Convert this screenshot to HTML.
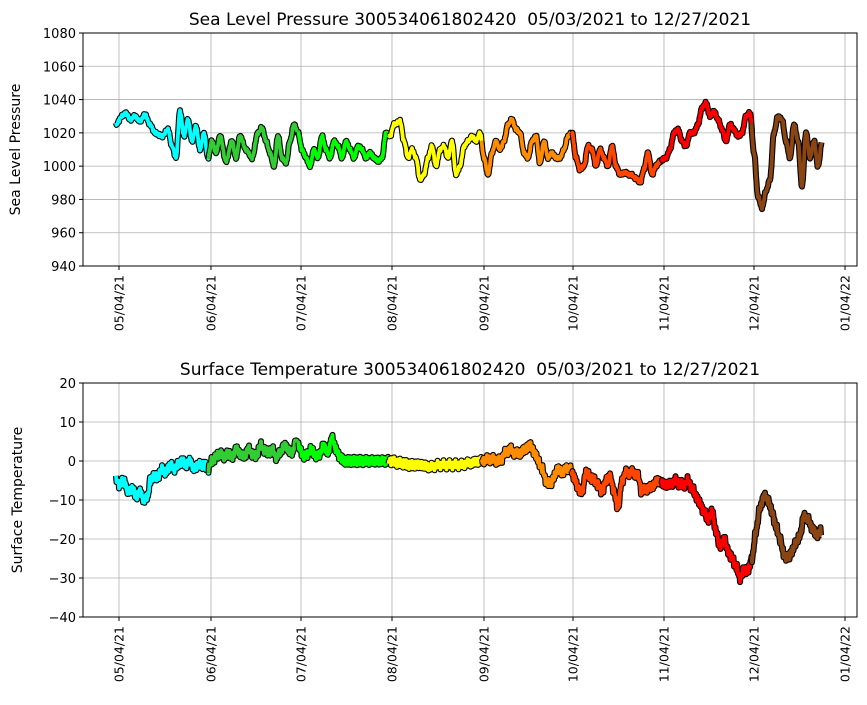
<!DOCTYPE html>
<html><head><meta charset="utf-8"><style>
body{margin:0;background:#fff;}
svg{font-family:"DejaVu Sans","Liberation Sans",sans-serif;}
</style></head><body>
<svg id="s" width="867" height="700" xmlns="http://www.w3.org/2000/svg"></svg>
<script>
const S=document.getElementById('s');
let h='';
const X0=83,X1=857;
const xt=[119,211,301,392,484,573,664,754,845];
const xl=['05/04/21','06/04/21','07/04/21','08/04/21','09/04/21','10/04/21','11/04/21','12/04/21','01/04/22'];
const cols=['#00ffff','#32cd32','#00ff00','#ffff00','#ff8c00','#ff4500','#ff0000','#8b4513'];
const bnd=[0,209,299,389,482,572,662,752,2000];
function axes(top,bot,vmax,vmin,step,title,ylab){
  const sc=(bot-top)/(vmax-vmin);
  for(let v=vmin;v<=vmax;v+=step){const y=top+(vmax-v)*sc;
    h+=`<line x1="${X0}" x2="${X1}" y1="${y}" y2="${y}" stroke="#b0b0b0" stroke-width="0.8"/>`;
    h+=`<line x1="${X0-4}" x2="${X0}" y1="${y}" y2="${y}" stroke="#000"/>`;
    h+=`<text x="${X0-7}" y="${y+5}" font-size="13" text-anchor="end">${v<0?'\u2212'+(-v):v}</text>`;}
  xt.forEach((x,i)=>{h+=`<line x1="${x}" x2="${x}" y1="${top}" y2="${bot}" stroke="#b0b0b0" stroke-width="0.8"/>`;
    h+=`<line x1="${x}" x2="${x}" y1="${bot}" y2="${bot+4}" stroke="#000"/>`;
    h+=`<text transform="translate(${x+4.5},${bot+9}) rotate(-90)" font-size="12.5" text-anchor="end">${xl[i]}</text>`;});
  h+=`<text x="470" y="${top-8}" font-size="17" text-anchor="middle" xml:space="preserve">${title}</text>`;
  h+=`<text transform="translate(${ylab},${(top+bot)/2}) rotate(-90)" font-size="14" text-anchor="middle">${ylab==20?'Sea Level Pressure':'Surface Temperature'}</text>`;
  return v=>top+(vmax-v)*sc;
}
function series(pts,f,amp){
  let P=[];
  for(let i=0;i<pts.length-2;i+=2){const x0=pts[i],v0=pts[i+1],x1=pts[i+2],v1=pts[i+3];
    for(let x=x0;x<x1;x+=0.5){const t=(x-x0)/(x1-x0);const s=(1-Math.cos(t*Math.PI))/2;
      P.push([x,f(v0+(v1-v0)*s+amp*Math.sin(x*7.3)*Math.sin(x*2.1))]);}}
  for(let m=0;m<8;m++){const seg=P.filter(p=>p[0]>=bnd[m]-0.5&&p[0]<=bnd[m+1]);if(!seg.length)continue;
    const d='M'+seg.map(p=>p[0].toFixed(1)+','+p[1].toFixed(1)).join('L');
    h+=`<path d="${d}" fill="none" stroke="#000" stroke-width="6" stroke-linejoin="round"/>`;
    h+=`<path d="${d}" fill="none" stroke="${cols[m]}" stroke-width="3.8" stroke-linejoin="round"/>`;}
}
const f1=axes(33,266,1080,940,20,'Sea Level Pressure 300534061802420  05/03/2021 to 12/27/2021',20);
series([116,1025,122,1030,126,1032,130,1028,135,1030,140,1027,145,1031,150,1025,155,1020,162,1018,168,1022,172,1012,176,1005,180,1033,184,1018,188,1028,192,1015,196,1024,200,1010,204,1020,208,1005,212,1015,216,1008,220,1018,226,1003,232,1015,236,1005,240,1018,246,1010,252,1005,258,1020,262,1023,266,1015,270,1008,274,1000,278,1018,282,1005,286,1002,290,1015,294,1025,298,1020,302,1010,306,1005,310,1000,314,1010,318,1005,322,1018,326,1010,330,1005,334,1015,338,1012,342,1005,346,1015,350,1010,354,1005,358,1012,362,1010,366,1005,370,1008,374,1005,378,1003,382,1005,386,1020,390,1018,394,1025,400,1027,404,1015,408,1005,412,1010,416,1005,420,992,424,995,428,1005,432,1012,436,1000,440,1010,444,1012,448,1005,452,1015,456,995,460,1000,464,1012,468,1015,472,1018,476,1015,480,1020,484,1005,488,995,492,1008,496,1015,500,1010,504,1015,508,1025,512,1028,516,1022,520,1020,524,1008,528,1005,532,1015,536,1018,540,1002,544,1015,548,1005,552,1008,556,1005,560,1005,564,1010,568,1018,572,1020,576,1005,580,998,584,1000,588,1012,592,1010,596,1000,600,1010,604,1005,608,1000,612,1012,616,1000,620,995,624,996,630,995,636,993,640,990,644,998,648,1008,652,995,656,1000,660,1003,666,1005,670,1010,674,1020,678,1022,682,1015,686,1012,690,1020,694,1020,698,1025,702,1035,706,1038,710,1030,714,1033,718,1028,722,1022,726,1015,730,1025,734,1022,738,1018,742,1020,746,1030,750,1032,754,1008,758,982,762,975,766,985,770,992,774,1020,778,1030,782,1028,786,1015,790,1005,794,1025,798,1015,802,988,806,1020,810,1005,814,1015,818,1000,822,1015],f1,1);
const f2=axes(383,617,20,-40,10,'Surface Temperature 300534061802420  05/03/2021 to 12/27/2021',22);
series([116,-5,120,-6,124,-5,128,-8,132,-7,136,-9,140,-8,144,-10,148,-9,150,-5,154,-4,158,-4,162,-2,166,-3,170,-1,174,-2,178,-1,182,0,186,-1,190,0,194,-2,198,-1,204,-1,208,-2,212,0,216,1,220,2,224,1,228,2,232,1,236,3,240,2,244,1,248,3,252,2,256,1,260,4,264,3,268,2,272,3,276,1,280,2,284,4,288,3,292,2,296,5,300,3,304,1,308,2,312,3,316,1,320,2,324,4,328,2,332,6,336,3,340,1,344,0,350,0,360,0,370,0,380,0,390,0,400,-0.5,410,-1,420,-1,430,-1.5,440,-1,450,-1,460,-1,470,-0.5,480,0,490,0.5,500,0,505,2,510,3,515,2,520,2,525,3,530,4,535,2,538,0,542,-2,546,-5,550,-6,554,-4,558,-2,562,-3,566,-2,570,-2,574,-4,578,-7,582,-8,586,-3,590,-4,594,-5,598,-6,602,-8,606,-5,610,-4,614,-8,618,-12,622,-5,626,-3,630,-3,634,-3,638,-4,642,-8,646,-7,650,-7,654,-6,658,-5,664,-6,670,-6,676,-5,680,-6,684,-6,688,-5,692,-7,696,-9,700,-11,704,-13,708,-15,712,-13,716,-18,720,-22,724,-20,728,-23,732,-25,736,-27,740,-30,744,-28,748,-28,752,-25,756,-18,760,-12,764,-9,768,-10,772,-13,776,-17,780,-20,784,-24,788,-25,792,-23,796,-21,800,-19,804,-14,808,-15,812,-17,816,-19,820,-18,822,-19],f2,1.2);
h+=`<rect x="${X0}" y="33" width="${X1-X0}" height="233" fill="none" stroke="#000" stroke-width="1"/>`;
h+=`<rect x="${X0}" y="383" width="${X1-X0}" height="234" fill="none" stroke="#000" stroke-width="1"/>`;
S.innerHTML=h;
</script>
</body></html>
